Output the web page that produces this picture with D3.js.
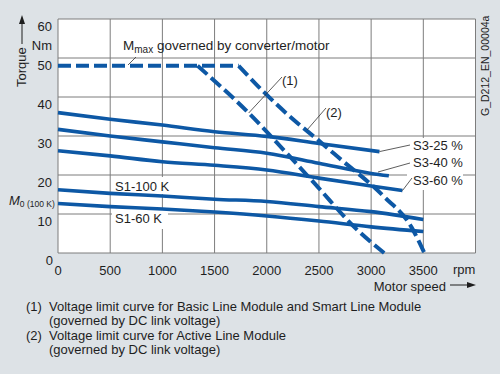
<!DOCTYPE html>
<html lang="en">
<head>
<meta charset="UTF-8">
<script src="https://d3js.org/d3.v7.min.js"></script>
<style>
    body { margin: 0; background: #dde2e6; }
    svg { display: block; font-family: "Liberation Sans", Arial, sans-serif; fill: #1e1e1e; }
    .grid { stroke: #7d7d7d; stroke-width: 1; }
    .curve { fill: none; stroke: #0d58a5; stroke-width: 3.6; }
    .dash { fill: none; stroke: #0d58a5; stroke-width: 4; stroke-dasharray: 13 5; }
    .lead { stroke: #333; stroke-width: 0.8; }
    .tick { font-size: 13px; }
    .note { font-size: 13px; }
</style>
</head>
<body>
<svg id="chart" width="500" height="374"></svg>
<script>
    // values
    const speedTicks = [0, 500, 1000, 1500, 2000, 2500, 3000, 3500];
    const torqueTicks = [0, 10, 20, 30, 40, 50, 60];

    const s3_25 = [[0, 36.0], [500, 34.3], [1000, 32.8], [1500, 31.1], [2000, 29.9], [2500, 28.1], [3080, 26.0]];
    const s3_40 = [[0, 31.7], [500, 30.0], [1000, 28.5], [1500, 27.0], [2000, 25.6], [2500, 23.0], [3000, 20.4], [3170, 19.8]];
    const s3_60 = [[0, 26.2], [500, 24.9], [1000, 23.4], [1500, 22.5], [2000, 21.3], [2500, 19.2], [3000, 17.2], [3300, 16.0]];
    const s1_100 = [[0, 16.2], [500, 15.3], [1000, 14.6], [1500, 13.8], [2000, 13.2], [2500, 11.9], [3000, 10.6], [3500, 8.6]];
    const s1_60 = [[0, 12.7], [500, 11.9], [1000, 11.3], [1500, 10.5], [2000, 9.5], [2500, 8.2], [3000, 6.7], [3500, 5.5]];

    const mmax = [[0, 48], [1731, 48]];
    const limit1 = [[1337, 48], [1827, 35.9], [2163, 26.4], [2490, 16.9], [2837, 6.7], [3125, 0]];
    const limit2 = [[1731, 48], [1971, 41.3], [2260, 34.1], [2490, 29.0], [2683, 24.6], [3125, 14.4], [3385, 6.7], [3510, 0]];

    const notes = [
        ["(1)", "Voltage limit curve for Basic Line Module and Smart Line Module"],
        ["", "(governed by DC link voltage)"],
        ["(2)", "Voltage limit curve for Active Line Module"],
        ["", "(governed by DC link voltage)"]
    ];

    const svg = d3.select("#chart");
    const x = d3.scaleLinear().domain([0, 4000]).range([58, 475.5]);
    const y = d3.scaleLinear().domain([0, 60]).range([253, 19]);

    // plot area
    svg.append("rect")
        .attr("x", x(0)).attr("y", y(60))
        .attr("width", x(4000) - x(0)).attr("height", y(0) - y(60))
        .attr("fill", "white");

    const grid = svg.append("g");
    grid.selectAll("line.v")
        .data(speedTicks.concat([4000]))
        .join("line")
        .attr("class", "grid")
        .attr("x1", d => x(d)).attr("x2", d => x(d))
        .attr("y1", y(0)).attr("y2", y(60));
    grid.selectAll("line.h")
        .data(torqueTicks)
        .join("line")
        .attr("class", "grid")
        .attr("x1", x(0)).attr("x2", x(4000))
        .attr("y1", d => y(d)).attr("y2", d => y(d));

    // white label boxes hiding the grid
    svg.append("rect").attr("x", 112).attr("y", 177).attr("width", 58).attr("height", 17).attr("fill", "white");
    svg.append("rect").attr("x", 112).attr("y", 208).attr("width", 56).attr("height", 21).attr("fill", "white");
    svg.append("rect").attr("x", 407).attr("y", 138).attr("width", 56).attr("height", 52).attr("fill", "white");

    const line = d3.line().x(d => x(d[0])).y(d => y(d[1])).curve(d3.curveMonotoneX);

    [s3_25, s3_40, s3_60, s1_100, s1_60].forEach(s => {
        svg.append("path").attr("class", "curve").attr("d", line(s));
    });
    [mmax, limit1, limit2].forEach(s => {
        svg.append("path").attr("class", "dash").attr("d", line(s));
    });

    // leaders and curve labels
    const leads = [
        [128, 65, 136, 57],
        [x(1827), y(35.9), 282, 77],
        [307, 130, 326, 108],
        [x(3080), y(26.0), 410, 145],
        [378, 172, 410, 163],
        [x(3300), y(16.0), 412, 178]
    ];
    svg.selectAll("line.lead")
        .data(leads)
        .join("line")
        .attr("class", "lead")
        .attr("x1", d => d[0]).attr("y1", d => d[1])
        .attr("x2", d => d[2]).attr("y2", d => d[3]);

    const mm = svg.append("text").attr("x", 123).attr("y", 50).attr("font-size", 13.5);
    mm.append("tspan").text("M");
    mm.append("tspan").attr("font-size", 10).attr("dy", 3).text("max");
    mm.append("tspan").attr("dy", -3).text(" governed by converter/motor");

    svg.append("text").attr("class", "tick").attr("x", 282).attr("y", 85).text("(1)");
    svg.append("text").attr("class", "tick").attr("x", 326).attr("y", 117).text("(2)");
    svg.append("text").attr("class", "tick").attr("x", 413).attr("y", 150).text("S3-25 %");
    svg.append("text").attr("class", "tick").attr("x", 413).attr("y", 167).text("S3-40 %");
    svg.append("text").attr("class", "tick").attr("x", 413).attr("y", 185).text("S3-60 %");
    svg.append("text").attr("class", "tick").attr("x", 115).attr("y", 191).text("S1-100 K");
    svg.append("text").attr("class", "tick").attr("x", 115).attr("y", 223).text("S1-60 K");

    // axis labels
    svg.selectAll("text.xt")
        .data(speedTicks)
        .join("text")
        .attr("class", "tick")
        .attr("x", d => x(d)).attr("y", 275)
        .attr("text-anchor", "middle")
        .text(d => d);
    svg.selectAll("text.yt")
        .data(torqueTicks)
        .join("text")
        .attr("class", "tick")
        .attr("x", d => d === 0 ? 53 : 52).attr("y", d => y(d) + 12)
        .attr("text-anchor", "end")
        .text(d => d);
    svg.append("text").attr("class", "tick").attr("x", 52).attr("y", 50).attr("text-anchor", "end").text("Nm");
    svg.append("text").attr("class", "tick").attr("x", 453).attr("y", 274).text("rpm");
    svg.append("text").attr("class", "tick").attr("x", 446).attr("y", 291).attr("text-anchor", "end").text("Motor speed");

    const m0 = svg.append("text").attr("x", 9).attr("y", 205).attr("font-size", 13);
    m0.append("tspan").attr("font-style", "italic").text("M");
    m0.append("tspan").attr("font-size", 8.5).attr("dy", 2).text("0 (100 K)");

    svg.append("text").attr("class", "tick")
        .attr("transform", "translate(26,87) rotate(-90)")
        .text("Torque");

    svg.append("text")
        .attr("transform", "translate(489,116) rotate(-90)")
        .attr("font-size", 10.5)
        .text("G_D212_EN_00004a");

    // arrows
    svg.append("line").attr("x1", 22).attr("y1", 44).attr("x2", 22).attr("y2", 22)
        .attr("stroke", "#1e1e1e").attr("stroke-width", 1);
    svg.append("path").attr("d", "M22,15 L19,24 L25,24 Z").attr("fill", "#1e1e1e");
    svg.append("line").attr("x1", 450).attr("y1", 285).attr("x2", 468).attr("y2", 285)
        .attr("stroke", "#1e1e1e").attr("stroke-width", 1);
    svg.append("path").attr("d", "M476,285 L467,282 L467,288 Z").attr("fill", "#1e1e1e");

    // footnotes
    const nt = svg.selectAll("g.note")
        .data(notes)
        .join("g")
        .attr("transform", (d, i) => `translate(0,${311 + i * 14.3})`);
    nt.append("text").attr("class", "note").attr("x", 26).text(d => d[0]);
    nt.append("text").attr("class", "note").attr("x", 49).text(d => d[1]);
</script>
</body>
</html>
